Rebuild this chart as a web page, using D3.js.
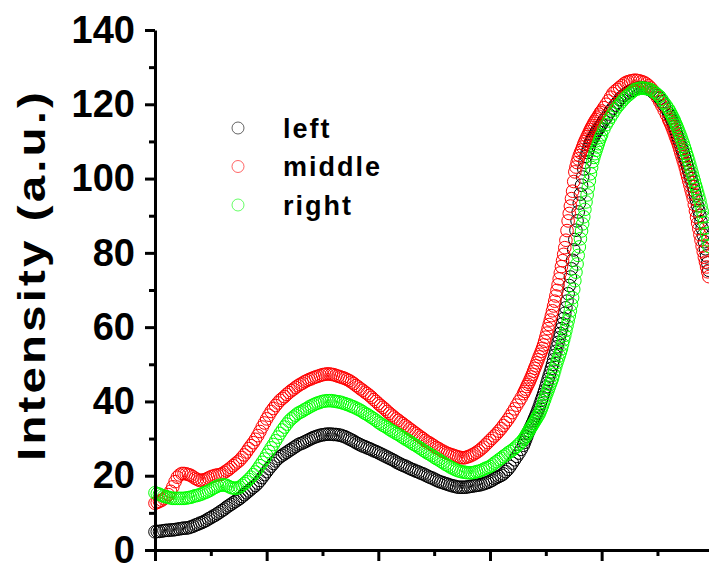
<!DOCTYPE html>
<html>
<head>
<meta charset="utf-8">
<script src="https://cdn.jsdelivr.net/npm/d3@7"></script>
<style>
  html, body { margin: 0; padding: 0; background: #fff; }
  svg { display: block; }
  text { font-family: "Liberation Sans", Arial, sans-serif; font-weight: bold; }
</style>
</head>
<body>
<div id="chart"></div>
<script>
// sample positions along the (unlabelled) x axis, denser where the curves are steep
const xPos = [
  0, 2, 4, 6, 8, 10, 12, 14, 16, 18, 20, 22, 24, 26, 28, 30, 32, 34, 36, 38,
  40, 42, 44, 46, 48, 50, 52, 54, 56, 58, 60, 62, 64, 66, 68, 70, 72, 74, 76, 78,
  80, 82, 84, 86, 88, 90, 92, 94, 96, 98, 100, 102, 104, 106, 108, 110, 112, 114, 116, 118,
  120, 122, 124, 126, 128, 130, 132, 134, 136, 138, 140, 142, 144, 146, 148, 150, 152, 154, 156, 158,
  160, 162, 164, 166, 168, 170, 172, 174, 176, 178, 180, 182, 184, 186, 188, 190, 192, 194, 196, 198,
  200, 202, 204, 206, 208, 210, 212, 214, 216, 218, 220, 222, 224, 226, 228, 230, 232, 234, 236, 238,
  240, 242, 244, 246, 248, 250, 252, 254, 256, 258, 260, 262, 264, 266, 268, 270, 272, 274, 276, 278,
  280, 282, 284, 286, 288, 290, 292, 294, 296, 298, 300, 302, 304, 306, 308, 310, 312, 314, 316, 318,
  320, 322, 324, 326, 328, 330,
  331, 332, 333, 334, 335, 336, 337, 338, 339, 340, 341, 342, 343, 344, 345, 346, 347, 348, 349, 350,
  351, 352, 353, 354, 355, 356, 357, 358, 359, 360, 361, 362, 363, 364, 365, 366, 367, 368, 369, 370,
  371, 372, 373, 374, 375, 376, 377, 378, 379, 380, 381, 382, 383, 384, 385, 386, 387, 388, 389, 390,
  391, 392, 393, 394, 395, 396, 397, 398, 399, 400,
  402, 404, 406, 408, 410, 412, 414, 416, 418, 420, 422, 424, 426, 428, 430, 432, 434, 436, 438, 440,
  442, 444, 446, 448, 450, 452, 454, 456, 458, 460,
  461, 462, 463, 464, 465, 466, 467, 468, 469, 470, 471, 472, 473, 474, 475, 476, 477, 478, 479, 480,
  481, 482, 483, 484, 485, 486, 487, 488, 489, 490, 491, 492, 493, 494, 495, 496
];

const leftValues = [
  4.9, 5.0, 5.0, 5.1, 5.2, 5.3, 5.3, 5.4, 5.4, 5.5,
  5.6, 5.7, 5.8, 5.9, 5.9, 6.0, 6.2, 6.4, 6.7, 6.9,
  7.2, 7.4, 7.7, 8.0, 8.4, 8.7, 9.1, 9.4, 9.8, 10.2,
  10.6, 11.0, 11.5, 11.9, 12.3, 12.7, 13.1, 13.5, 13.9, 14.4,
  14.9, 15.4, 15.9, 16.4, 16.9, 17.4, 18.0, 18.7, 19.5, 20.3,
  21.1, 21.9, 22.6, 23.3, 24.0, 24.6, 25.1, 25.5, 25.9, 26.3,
  26.7, 27.1, 27.5, 27.9, 28.3, 28.6, 28.8, 29.1, 29.4, 29.7,
  30.0, 30.3, 30.5, 30.7, 30.9, 31.0, 31.1, 31.2, 31.2, 31.2,
  31.1, 31.1, 31.0, 30.9, 30.7, 30.5, 30.2, 29.9, 29.6, 29.3,
  28.9, 28.6, 28.3, 28.0, 27.8, 27.5, 27.3, 27.0, 26.7, 26.5,
  26.2, 25.9, 25.6, 25.3, 25.0, 24.7, 24.4, 24.1, 23.7, 23.4,
  23.1, 22.8, 22.6, 22.3, 22.0, 21.7, 21.5, 21.2, 21.0, 20.7,
  20.5, 20.2, 19.9, 19.6, 19.4, 19.1, 18.8, 18.5, 18.3, 18.1,
  17.9, 17.7, 17.5, 17.3, 17.2, 17.0, 16.9, 16.9, 16.9, 16.9,
  17.0, 17.1, 17.2, 17.3, 17.4, 17.5, 17.6, 17.8, 18.0, 18.2,
  18.5, 18.8, 19.2, 19.5, 19.8, 20.1, 20.5, 21.1, 21.7, 22.5,
  23.4, 24.3, 25.2, 26.1, 27.1, 28.2,
  29.0, 29.8, 30.6, 31.5, 32.1, 32.8, 33.4, 34.1, 34.8, 35.5,
  36.2, 36.9, 37.7, 38.5, 39.4, 40.3, 41.1, 42.0, 42.9, 43.9,
  44.9, 45.9, 46.9, 47.9, 48.9, 50.0, 51.2, 52.4, 53.5, 54.7,
  55.9, 57.1, 58.3, 59.6, 60.9, 62.3, 63.7, 65.2, 67.0, 69.0,
  71.2, 73.5, 75.7, 78.0, 80.8, 83.6, 86.1, 88.6, 91.0, 93.4,
  95.8, 98.2, 100.4, 102.6, 104.4, 106.0, 107.0, 107.9, 108.8, 109.7,
  110.3, 110.8, 111.4, 112.0, 112.5, 112.9, 113.4, 113.8, 114.3, 114.7,
  115.6, 116.4, 117.4, 118.2, 119.0, 119.8, 120.5, 121.3, 121.9, 122.5,
  122.8, 123.2, 123.6, 123.8, 124.1, 124.3, 124.5, 124.5, 124.4, 124.3,
  124.1, 123.8, 123.3, 122.8, 122.3, 121.6, 120.7, 119.7, 118.7, 117.6,
  117.0, 116.4, 115.7, 115.0, 114.1, 113.2, 112.3, 111.4, 110.5, 109.6,
  108.7, 107.8, 106.9, 106.0, 105.1, 104.1, 103.1, 102.1, 101.1, 100.0,
  99.0, 97.9, 96.7, 95.4, 94.1, 92.7, 91.4, 90.1, 88.4, 86.6,
  84.8, 83.0, 81.1, 79.2, 77.3, 75.3
];

const middleValues = [
  12.6, 12.8, 13.1, 13.4, 13.8, 14.3, 14.9, 15.8, 17.0, 18.4,
  19.6, 20.2, 20.6, 20.6, 20.5, 20.3, 20.1, 19.7, 19.3, 19.0,
  18.7, 18.8, 18.9, 19.1, 19.4, 19.7, 19.9, 20.1, 20.2, 20.3,
  20.5, 20.9, 21.3, 21.7, 22.2, 22.7, 23.2, 23.7, 24.2, 24.9,
  25.6, 26.4, 27.3, 28.1, 28.9, 29.8, 30.8, 31.9, 33.1, 34.2,
  35.3, 36.3, 37.3, 38.1, 38.9, 39.6, 40.3, 40.8, 41.3, 41.9,
  42.4, 42.9, 43.3, 43.8, 44.2, 44.6, 44.9, 45.3, 45.6, 45.9,
  46.1, 46.4, 46.6, 46.8, 47.0, 47.2, 47.3, 47.4, 47.4, 47.3,
  47.2, 47.0, 46.8, 46.6, 46.4, 46.2, 45.9, 45.6, 45.2, 44.8,
  44.3, 43.9, 43.4, 43.0, 42.5, 42.1, 41.6, 41.1, 40.5, 40.0,
  39.4, 38.9, 38.4, 37.9, 37.3, 36.8, 36.3, 35.8, 35.3, 34.9,
  34.4, 34.0, 33.5, 33.1, 32.6, 32.2, 31.7, 31.3, 30.8, 30.4,
  30.0, 29.5, 29.1, 28.8, 28.4, 28.0, 27.6, 27.3, 26.9, 26.6,
  26.3, 26.0, 25.8, 25.6, 25.4, 25.2, 25.0, 24.9, 24.8, 24.9,
  25.1, 25.3, 25.6, 25.9, 26.3, 26.7, 27.2, 27.7, 28.3, 28.9,
  29.5, 30.1, 30.7, 31.3, 32.0, 32.7, 33.5, 34.3, 35.1, 36.0,
  37.0, 38.0, 39.0, 40.0, 41.0, 42.1,
  42.7, 43.3, 44.0, 44.6, 45.2, 45.9, 46.6, 47.3, 48.1, 48.9,
  49.6, 50.4, 51.2, 52.0, 52.7, 53.5, 54.3, 55.2, 56.2, 57.3,
  58.4, 59.6, 60.7, 61.9, 63.1, 64.4, 65.7, 67.0, 68.4, 69.9,
  71.4, 73.0, 74.6, 76.3, 77.9, 79.6, 81.4, 83.4, 86.0, 88.6,
  90.6, 92.6, 94.6, 96.6, 99.2, 101.8, 103.1, 104.3, 105.3, 106.2,
  107.0, 107.7, 108.5, 109.3, 110.0, 110.6, 111.3, 111.9, 112.6, 113.2,
  113.8, 114.3, 114.9, 115.4, 115.9, 116.3, 116.8, 117.3, 117.8, 118.2,
  119.1, 120.0, 120.9, 121.9, 122.9, 123.5, 124.0, 124.5, 125.0, 125.5,
  125.9, 126.1, 126.3, 126.4, 126.5, 126.4, 126.3, 126.1, 125.9, 125.5,
  125.0, 124.4, 123.7, 122.9, 121.8, 120.7, 119.6, 118.4, 117.2, 115.9,
  115.3, 114.6, 113.9, 113.1, 112.3, 111.4, 110.6, 109.8, 108.9, 107.9,
  106.9, 105.9, 104.9, 103.9, 102.8, 101.6, 100.5, 99.3, 98.2, 97.0,
  95.9, 94.7, 93.0, 91.3, 89.6, 88.0, 86.5, 84.9, 83.4, 81.8,
  80.3, 78.8, 77.5, 76.2, 74.9, 73.6
];

const rightValues = [
  15.4, 15.2, 15.0, 14.7, 14.5, 14.3, 14.2, 14.0, 13.9, 13.9,
  13.9, 13.9, 13.9, 13.9, 14.0, 14.1, 14.2, 14.4, 14.6, 14.7,
  14.9, 15.1, 15.4, 15.6, 15.9, 16.2, 16.6, 16.9, 17.2, 17.4,
  17.5, 17.5, 17.4, 17.1, 16.8, 16.7, 16.6, 16.7, 16.9, 17.4,
  17.9, 18.4, 19.0, 19.6, 20.3, 21.0, 21.8, 22.7, 23.6, 24.5,
  25.5, 26.5, 27.5, 28.4, 29.4, 30.4, 31.4, 32.3, 33.1, 33.9,
  34.7, 35.3, 35.8, 36.3, 36.8, 37.1, 37.4, 37.8, 38.1, 38.5,
  38.8, 39.1, 39.4, 39.6, 39.8, 40.0, 40.1, 40.2, 40.2, 40.2,
  40.1, 40.0, 39.9, 39.8, 39.6, 39.4, 39.2, 39.0, 38.7, 38.5,
  38.2, 37.9, 37.6, 37.2, 36.8, 36.5, 36.1, 35.7, 35.3, 34.9,
  34.4, 34.0, 33.6, 33.3, 32.9, 32.5, 32.1, 31.8, 31.4, 31.1,
  30.7, 30.3, 29.9, 29.6, 29.2, 28.8, 28.4, 28.1, 27.7, 27.3,
  26.9, 26.5, 26.1, 25.8, 25.4, 25.0, 24.6, 24.3, 23.9, 23.5,
  23.1, 22.8, 22.4, 22.1, 21.8, 21.5, 21.3, 21.1, 21.0, 20.9,
  20.8, 20.8, 20.8, 20.9, 21.1, 21.2, 21.4, 21.7, 22.0, 22.2,
  22.5, 22.9, 23.4, 23.8, 24.3, 24.7, 25.2, 25.6, 26.1, 26.5,
  26.9, 27.4, 27.9, 28.5, 29.1, 29.8,
  30.2, 30.7, 31.2, 31.7, 32.2, 32.7, 33.1, 33.6, 34.1, 34.6,
  35.1, 35.6, 36.1, 36.6, 37.3, 38.0, 38.8, 39.7, 40.5, 41.4,
  42.2, 43.0, 43.8, 44.6, 45.4, 46.2, 47.3, 48.4, 49.5, 50.5,
  51.4, 52.3, 53.2, 54.2, 55.4, 56.6, 57.8, 59.1, 60.4, 61.7,
  63.0, 64.4, 66.1, 67.9, 70.2, 72.5, 74.8, 77.0, 79.3, 81.6,
  83.8, 85.9, 87.8, 89.7, 91.7, 93.7, 95.6, 97.5, 99.4, 101.3,
  103.0, 104.6, 105.7, 106.7, 107.6, 108.5, 109.4, 110.3, 111.1, 111.8,
  113.3, 114.5, 115.5, 116.5, 117.5, 118.5, 119.3, 120.0, 120.7, 121.4,
  122.0, 122.5, 123.0, 123.5, 124.0, 124.1, 124.3, 124.4, 124.3, 124.2,
  124.1, 123.9, 123.5, 123.1, 122.6, 122.1, 121.3, 120.4, 119.6, 118.7,
  118.1, 117.5, 116.9, 116.3, 115.7, 115.0, 114.3, 113.6, 112.8, 112.0,
  111.2, 110.3, 109.5, 108.6, 107.7, 106.7, 105.8, 104.8, 103.7, 102.6,
  101.5, 100.4, 99.4, 98.3, 97.3, 96.2, 95.1, 94.0, 92.6, 91.2,
  89.7, 88.2, 86.7, 85.2, 83.5, 81.7
];

const seriesNames = ["left", "middle", "right"];
const seriesColors = ["#000000", "#ff0000", "#00ff00"];
const yTicks = [0, 20, 40, 60, 80, 100, 120, 140];
const yMinorTicks = [10, 30, 50, 70, 90, 110, 130];
const xTicks = [0, 100, 200, 300, 400, 500];
const xMinorTicks = [50, 150, 250, 350, 450];

const width = 709, height = 563;

const svg = d3.select("#chart")
    .append("svg")
    .attr("width", width)
    .attr("height", height);

const x = d3.scaleLinear().domain([0, 500]).range([155, 713.3]);
const y = d3.scaleLinear().domain([0, 140]).range([550, 30]);

// data points, drawn in legend order so green ends up on top
const allSeries = [leftValues, middleValues, rightValues];
allSeries.forEach((vals, i) => {
    const n = Math.min(vals.length, xPos.length);
    const pts = d3.range(n).map(j => ({ x: xPos[j], y: vals[j] }));
    svg.append("g")
        .selectAll("circle")
        .data(pts)
        .enter().append("circle")
        .attr("cx", d => x(d.x))
        .attr("cy", d => y(d.y))
        .attr("r", 6.3)
        .style("fill", "none")
        .style("stroke", seriesColors[i])
        .style("stroke-width", 1);
});

// y axis
const yAxis = svg.append("g")
    .attr("transform", "translate(155,0)")
    .call(d3.axisLeft(y).tickValues(yTicks).tickSize(10).tickSizeOuter(0).tickPadding(10));
svg.append("g")
    .attr("transform", "translate(155,0)")
    .call(d3.axisLeft(y).tickValues(yMinorTicks).tickSize(6).tickSizeOuter(0).tickFormat(""))
    .select(".domain").remove();

yAxis.selectAll("text")
    .style("font-size", "38px")
    .attr("fill", "#000");

// x axis (no labels)
svg.append("g")
    .attr("transform", "translate(0,550)")
    .call(d3.axisBottom(x).tickValues(xTicks).tickSize(11).tickSizeOuter(0).tickFormat(""));
svg.append("g")
    .attr("transform", "translate(0,550)")
    .call(d3.axisBottom(x).tickValues(xMinorTicks).tickSize(6).tickSizeOuter(0).tickFormat(""))
    .select(".domain").remove();

svg.selectAll(".domain").style("stroke", "#000").style("stroke-width", 3);
svg.selectAll(".tick line").style("stroke", "#000").style("stroke-width", 3);

// y axis title (slightly wide lettering, as in the original)
svg.append("text")
    .attr("transform", "translate(45,275) rotate(-90) scale(1.25,1)")
    .attr("text-anchor", "middle")
    .style("font-size", "38px")
    .style("letter-spacing", "2.5px")
    .text("Intensity (a.u.)");

// legend
const legend = svg.append("g");
seriesNames.forEach((name, i) => {
    const cy = 128 + i * 38.5;
    legend.append("circle")
        .attr("cx", 238)
        .attr("cy", cy)
        .attr("r", 6)
        .style("fill", "none")
        .style("stroke", seriesColors[i])
        .style("stroke-opacity", 0.6)
        .style("stroke-width", 1);
    legend.append("text")
        .attr("x", 283)
        .attr("y", cy + 9.5)
        .style("font-size", "27px")
        .style("letter-spacing", "2px")
        .text(name);
});
</script>
</body>
</html>
